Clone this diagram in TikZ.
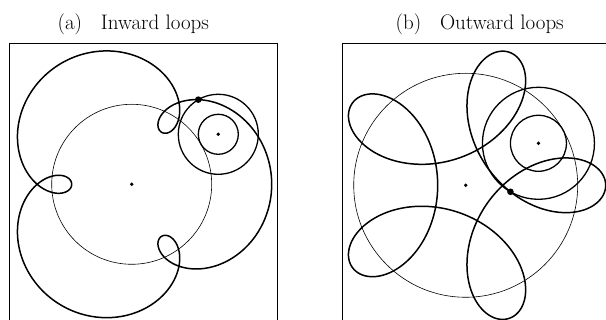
\documentclass[tikz,border=0pt]{standalone}
\usepackage{tikz}
\usetikzlibrary{positioning, calc}
\begin{document}
\begin{tikzpicture}[
    x=1pt, y=1pt,
    every node/.style={font=\fontsize{21}{25}\selectfont},
    frame/.style={line width=0.8pt},
    guide/.style={line width=0.6pt},
    wheel/.style={line width=1.3pt},
    trace/.style={line width=1.5pt, line join=round},
    hub/.style={circle, fill, inner sep=0pt, minimum size=3.8pt},
    pen/.style={circle, fill, inner sep=0pt, minimum size=6.6pt}
]
    \clip (0,0) rectangle (606,320);

    % (a) inward loops
    \coordinate (cA) at (131.7,135.7);
    \coordinate (eA) at ($(cA)+(30:100)$);
    \draw[frame] (9,-10) rectangle (277.3,276.7);
    \node[anchor=base] (titleA) at (133.3,290.7) {(a)\hspace{0.9em}Inward loops};
    \draw[guide] (cA) circle[radius=80];
    \draw[wheel] (eA) circle[radius=20];
    \draw[wheel] (eA) circle[radius=40];
    \begin{scope}[shift={(cA)}]
        \draw[trace] plot[domain=0:360, samples=361, smooth, variable=\t]
            ({100*cos(\t)+40*cos(4*\t)}, {100*sin(\t)+40*sin(4*\t)}) -- cycle;
    \end{scope}
    \node[hub] (hubA) at (cA) {};
    \node[hub] (hubEA) at (eA) {};
    \node[pen] (penA) at ($(eA)+(120:40)$) {};

    % (b) outward loops
    \coordinate (cB) at (465.7,134.7);
    \coordinate (eB) at ($(cB)+(30:84)$);
    \draw[frame] (342.3,-10) rectangle (620,276.7);
    \node[anchor=base] (titleB) at (479.7,290.7) {(b)\hspace{0.9em}Outward loops};
    \draw[guide] (cB) circle[radius=112];
    \draw[wheel] (eB) circle[radius=28];
    \draw[wheel] (eB) circle[radius=56];
    \begin{scope}[shift={(cB)}]
        \draw[trace] plot[domain=0:360, samples=361, smooth, variable=\t]
            ({84*cos(\t)+56*cos(-4*\t)}, {84*sin(\t)+56*sin(-4*\t)}) -- cycle;
    \end{scope}
    \node[hub] (hubB) at (cB) {};
    \node[hub] (hubEB) at (eB) {};
    \node[pen] (penB) at ($(eB)+(-120:56)$) {};
\end{tikzpicture}
\end{document}
